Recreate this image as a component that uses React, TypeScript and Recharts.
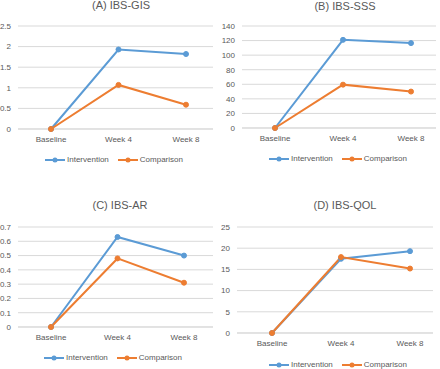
import { CartesianGrid, Line, LineChart, XAxis, YAxis } from 'recharts'

const categories = ['Baseline', 'Week 4', 'Week 8']

const gisIntervention = [0, 1.93, 1.82]
const gisComparison = [0, 1.07, 0.59]
const gisTicks = [0, 0.5, 1, 1.5, 2, 2.5]

const sssIntervention = [0, 121, 116.5]
const sssComparison = [0, 59.5, 50]
const sssTicks = [0, 20, 40, 60, 80, 100, 120, 140]

const arIntervention = [0, 0.63, 0.5]
const arComparison = [0, 0.48, 0.31]
const arTicks = [0, 0.1, 0.2, 0.3, 0.4, 0.5, 0.6, 0.7]

const qolIntervention = [0, 17.5, 19.3]
const qolComparison = [0, 17.9, 15.2]
const qolTicks = [0, 5, 10, 15, 20, 25]

const BLUE = '#5b9bd5'
const ORANGE = '#ed7d31'
const TEXT = '#595959'
const FONT = '"Liberation Sans", Arial, sans-serif'

const build = (a: number[], b: number[]) =>
  categories.map((c, i) => ({ name: c, Intervention: a[i], Comparison: b[i] }))

type PanelProps = {
  left: number
  top: number
  height: number
  title: string
  titleX: number
  titleY: number
  a: number[]
  b: number[]
  ticks: number[]
  margin: { top: number; right: number; bottom: number; left: number }
  yWidth: number
  padding: { left: number; right: number }
  legendTop: number
  legendLeft: number
}

function LegendRow({ legendLeft, legendTop }: { legendLeft: number; legendTop: number }) {
  const item = (color: string, label: string) => (
    <div style={{ display: 'flex', alignItems: 'center', marginRight: 9 }}>
      <svg width={20} height={8}>
        <line x1={0} y1={4} x2={20} y2={4} stroke={color} strokeWidth={2} />
        <circle cx={10} cy={4} r={2.5} fill={color} />
      </svg>
      <span style={{ marginLeft: 2, fontSize: 8, lineHeight: '10px', color: TEXT, fontFamily: FONT }}>
        {label}
      </span>
    </div>
  )
  return (
    <div style={{ position: 'absolute', top: legendTop, left: legendLeft, display: 'flex' }}>
      {item(BLUE, 'Intervention')}
      {item(ORANGE, 'Comparison')}
    </div>
  )
}

function Panel(p: PanelProps) {
  const data = build(p.a, p.b)
  return (
    <div style={{ position: 'absolute', left: p.left, top: p.top, width: 220, height: p.height }}>
      <div
        style={{
          position: 'absolute',
          left: p.titleX - 60,
          width: 120,
          top: p.titleY - 7,
          textAlign: 'center',
          fontSize: 11,
          color: TEXT,
          fontFamily: FONT,
          zIndex: 2,
        }}
      >
        {p.title}
      </div>
      <LineChart width={220} height={p.height} data={data} margin={p.margin}>
        <CartesianGrid vertical={false} stroke="#d9d9d9" />
        <XAxis
          dataKey="name"
          padding={p.padding}
          axisLine={{ stroke: '#d9d9d9' }}
          tickLine={false}
          tickSize={0}
          tickMargin={7}
          tick={{ fontSize: 8, fill: TEXT, fontFamily: FONT }}
          height={20}
        />
        <YAxis
          width={p.yWidth}
          domain={[p.ticks[0], p.ticks[p.ticks.length - 1]]}
          ticks={p.ticks}
          axisLine={false}
          tickLine={false}
          tickSize={0}
          tickMargin={7}
          interval={0}
          tick={{ fontSize: 8, fill: TEXT, fontFamily: FONT }}
        />
        <Line
          type="linear"
          dataKey="Intervention"
          stroke={BLUE}
          strokeWidth={2}
          dot={{ r: 2.5, fill: BLUE, stroke: BLUE, strokeWidth: 1 }}
          isAnimationActive={false}
        />
        <Line
          type="linear"
          dataKey="Comparison"
          stroke={ORANGE}
          strokeWidth={2}
          dot={{ r: 2.5, fill: ORANGE, stroke: ORANGE, strokeWidth: 1 }}
          isAnimationActive={false}
        />
      </LineChart>
      <LegendRow legendLeft={p.legendLeft} legendTop={p.legendTop} />
    </div>
  )
}

export default function App() {
  return (
    <div style={{ position: 'absolute', left: 0, top: 0, width: 440, height: 369, background: '#fff' }}>
      <Panel
        left={0}
        top={0}
        height={185}
        title="(A) IBS-GIS"
        titleX={121}
        titleY={6}
        a={gisIntervention}
        b={gisComparison}
        ticks={gisTicks}
        margin={{ top: 26, right: 7, bottom: 36, left: 0 }}
        yWidth={18}
        padding={{ left: 33, right: 27 }}
        legendTop={155}
        legendLeft={45}
      />
      <Panel
        left={220}
        top={0}
        height={185}
        title="(B) IBS-SSS"
        titleX={125}
        titleY={7}
        a={sssIntervention}
        b={sssComparison}
        ticks={sssTicks}
        margin={{ top: 26, right: 4, bottom: 37, left: 0 }}
        yWidth={22}
        padding={{ left: 33, right: 25 }}
        legendTop={154}
        legendLeft={49}
      />
      <Panel
        left={0}
        top={185}
        height={184}
        title="(C) IBS-AR"
        titleX={120}
        titleY={21}
        a={arIntervention}
        b={arComparison}
        ticks={arTicks}
        margin={{ top: 42, right: 7, bottom: 22, left: 0 }}
        yWidth={18}
        padding={{ left: 33, right: 29 }}
        legendTop={168}
        legendLeft={44}
      />
      <Panel
        left={220}
        top={185}
        height={184}
        title="(D) IBS-QOL"
        titleX={125}
        titleY={21}
        a={qolIntervention}
        b={qolComparison}
        ticks={qolTicks}
        margin={{ top: 42, right: 7, bottom: 16, left: 0 }}
        yWidth={17}
        padding={{ left: 35, right: 23 }}
        legendTop={175}
        legendLeft={49}
      />
    </div>
  )
}
